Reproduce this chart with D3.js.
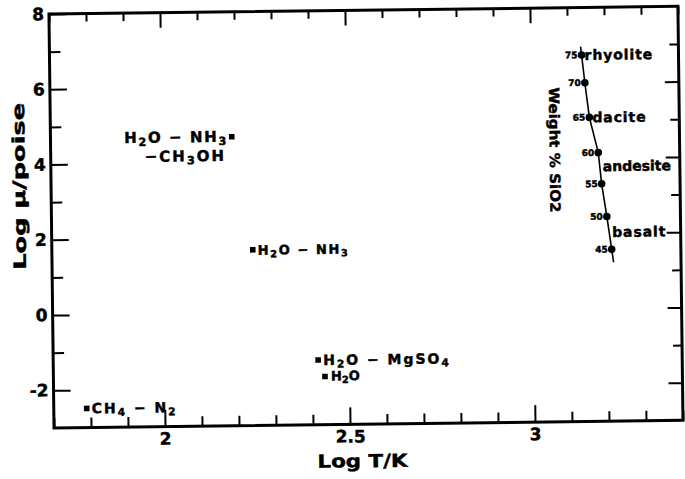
<!DOCTYPE html>
<html>
<head>
<meta charset="utf-8">
<script src="https://cdn.jsdelivr.net/npm/d3@7"></script>
<style>
  body { margin: 0; background: #fff; }
  text { font-family: "DejaVu Sans", sans-serif; font-weight: bold; fill: #000; stroke: #000; stroke-width: 0.45px; }
</style>
</head>
<body>
<div id="chart"></div>
<script>
// viscosity of icy and silicate melts vs temperature
const systems = ["H_2O − NH_3|−CH_3OH", "H_2O − NH_3", "H_2O − MgSO_4", "H_2O", "CH_4 − N_2"];
const systemLogT = [2.19, 2.243, 2.416, 2.434, 1.789];
const systemLogMu = [4.68, 1.67, -1.28, -1.72, -2.49];

const silica = [75, 70, 65, 60, 55, 50, 45];
const silicaLogT = [3.138, 3.146, 3.157, 3.180, 3.188, 3.201, 3.213];
const silicaLogMu = [6.74, 6.00, 5.08, 4.14, 3.31, 2.44, 1.57];

const rocks = ["rhyolite", "dacite", "andesite", "basalt"];
const rockLogMu = [6.74, 5.08, 3.78, 2.03];

const xTicks = [2, 2.5, 3];
const yTicks = [-2, 0, 2, 4, 6, 8];

const width = 685, height = 479;

const svg = d3.select('#chart').append('svg')
  .attr('width', width)
  .attr('height', height);

// the scanned figure is a little tilted
const g = svg.append('g').attr('transform', 'rotate(-0.7,54,427)');

const x = d3.scaleLinear().domain([1.7, 3.4]).range([54, 683]);
const y = d3.scaleLinear().domain([-3, 8]).range([428, 14]);

const xMinor = x.ticks(17).filter(d => !xTicks.some(t => Math.abs(t - d) < 1e-6));
const yMinor = d3.range(-3, 8).filter(d => !yTicks.includes(d) && d > -3);

function ticks(axis, pos, values, size, labels) {
  const a = g.append('g')
    .attr('transform', pos)
    .call(axis.tickValues(values).tickSize(size).tickSizeOuter(0).tickPadding(6)
      .tickFormat(labels ? (d => String(d)) : ''));
  a.select('.domain').remove();
  a.selectAll('line').attr('stroke-width', 2);
  a.attr('font-family', null).attr('font-size', 17);
  return a;
}

ticks(d3.axisBottom(x), `translate(0,${y(-3)})`, xTicks, -17, true);
ticks(d3.axisBottom(x), `translate(0,${y(-3)})`, xMinor, -10, false);
ticks(d3.axisTop(x), `translate(0,${y(8)})`, xTicks, -15, false);
ticks(d3.axisTop(x), `translate(0,${y(8)})`, xMinor, -8, false);
ticks(d3.axisLeft(y), `translate(${x(1.7)},0)`, yTicks, -17, true).selectAll('text').attr('dx', 1);
ticks(d3.axisLeft(y), `translate(${x(1.7)},0)`, yMinor, -11, false);
ticks(d3.axisRight(y), `translate(${x(3.4)},0)`, yTicks.filter(d => d < 8), -14, false);
ticks(d3.axisRight(y), `translate(${x(3.4)},0)`, yMinor, -9, false);

g.append('rect')
  .attr('x', x(1.7)).attr('y', y(8))
  .attr('width', x(3.4) - x(1.7))
  .attr('height', y(-3) - y(8))
  .attr('fill', 'none')
  .attr('stroke', '#000')
  .attr('stroke-width', 3);

// axis titles
g.append('text')
  .attr('transform', 'translate(28,186) rotate(-90)')
  .attr('text-anchor', 'middle')
  .attr('font-size', 17)
  .attr('textLength', 167).attr('lengthAdjust', 'spacingAndGlyphs')
  .text('Log μ/poise');

g.append('text')
  .attr('x', 362).attr('y', 471)
  .attr('text-anchor', 'middle')
  .attr('font-size', 18)
  .attr('textLength', 90).attr('lengthAdjust', 'spacingAndGlyphs')
  .text('Log T/K');

// text with subscripts written as _n
function chem(sel, str, size) {
  let low = false;
  str.split(/_(\d)/).forEach((p, k) => {
    if (!p) return;
    const t = sel.append('tspan').text(p);
    if (k % 2) {
      t.attr('font-size', size * 0.75).attr('dy', size * 0.2);
      low = true;
    } else if (low) {
      t.attr('dy', -size * 0.2);
      low = false;
    }
  });
}

function label(px, py, str, size, spacing, anchor) {
  const t = g.append('text')
    .attr('x', px).attr('y', py)
    .attr('text-anchor', anchor)
    .attr('font-size', size)
    .attr('letter-spacing', spacing);
  chem(t, str, size);
}

// icy systems
systems.forEach((name, i) => {
  const px = x(systemLogT[i]), py = y(systemLogMu[i]);
  g.append('rect')
    .attr('x', px - 2.8).attr('y', py - 2.8)
    .attr('width', 5.6).attr('height', 5.6)
    .attr('fill', '#000');
  const lines = name.split('|');
  if (i === 0) {
    label(px - 4, py + 5, lines[0], 15, 1.6, 'end');
    label(px - 6, py + 24, lines[1], 15, 2, 'end');
  } else if (i === 1) {
    label(px + 5, py + 5, lines[0], 13, 1.6, 'start');
  } else if (i === 3) {
    label(px + 6, py + 4, lines[0], 13, 0, 'start');
  } else {
    label(px + 5, py + 5, lines[0], 14, 2, 'start');
  }
});

// silicate melts
const sil = silica.map((s, i) => ({ s, t: silicaLogT[i], m: silicaLogMu[i] }));
const n = sil.length;
const ext = (a, b, f) => ({ t: a.t + (a.t - b.t) * f, m: a.m + (a.m - b.m) * f });
const linePts = [ext(sil[0], sil[1], 0.3), ...sil, ext(sil[n - 1], sil[n - 2], 0.4)];

g.append('path')
  .datum(linePts)
  .attr('d', d3.line().x(d => x(d.t)).y(d => y(d.m)))
  .attr('fill', 'none')
  .attr('stroke', '#000')
  .attr('stroke-width', 1.6);

g.selectAll('.sil')
  .data(sil)
  .enter()
  .append('circle')
  .attr('class', 'sil')
  .attr('cx', d => x(d.t))
  .attr('cy', d => y(d.m))
  .attr('r', 3.8)
  .attr('fill', '#000');

g.selectAll('.silnum')
  .data(sil)
  .enter()
  .append('text')
  .attr('class', 'silnum')
  .attr('x', d => x(d.t) - 4)
  .attr('y', d => y(d.m))
  .attr('dy', '0.35em')
  .attr('text-anchor', 'end')
  .attr('font-size', 9)
  .text(d => d.s);

const lineT = d3.scaleLinear().domain(silicaLogMu).range(silicaLogT);

g.selectAll('.rock')
  .data(rocks)
  .enter()
  .append('text')
  .attr('class', 'rock')
  .attr('x', (d, i) => x(lineT(rockLogMu[i])) + 3)
  .attr('y', (d, i) => y(rockLogMu[i]))
  .attr('dy', '0.36em')
  .attr('font-size', 14)
  .attr('letter-spacing', (d, i) => i === 2 ? 0 : 0.9)
  .text(d => d);

g.append('text')
  .attr('transform', 'translate(553,156) rotate(90)')
  .attr('text-anchor', 'middle')
  .attr('font-size', 14)
  .attr('textLength', 125).attr('lengthAdjust', 'spacingAndGlyphs')
  .text('Weight % SiO2');
</script>
</body>
</html>
